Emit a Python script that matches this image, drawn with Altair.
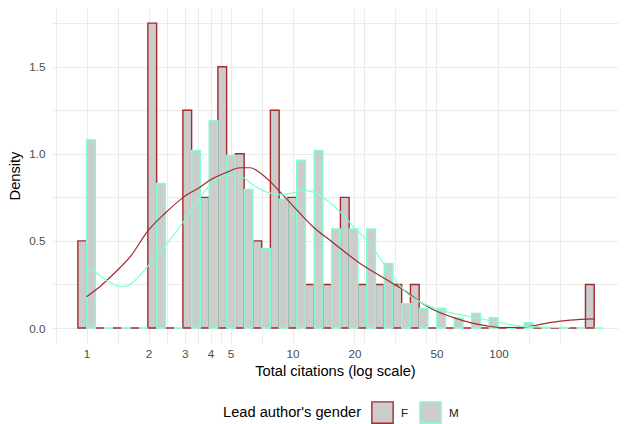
import altair as alt
import numpy as np
import pandas as pd

# ---------------- data ----------------
genders = ["F", "M"]
colors = ["#A52A2A", "#7FFFD4"]

# 30 log10-spaced histogram bins spanning 1 .. 292 citations (bin centres)
n_bins = 30
max_citations = 292
bin_index = list(range(n_bins))

density_F = [0.50, 0, 0, 0, 1.75, 0, 1.25, 0.75, 1.50, 1.00,
             0.50, 1.25, 0.75, 0.25, 0.25, 0.75, 0.25, 0.25, 0.25, 0.25,
             0, 0, 0, 0, 0, 0, 0, 0, 0, 0.25]
density_M = [1.08, 0, 0, 0, 0.83, 0, 1.02, 1.19, 0.99, 0.795,
             0.457, 0.74, 0.963, 1.02, 0.568, 0.568, 0.568, 0.37, 0.14, 0.113,
             0.113, 0.056, 0.084, 0.059, 0, 0.03, 0, 0, 0, 0]

# kernel density curves (citations, density)
curve_F_x = [1.0, 1.166, 1.378, 1.63, 1.993, 2.41, 2.947, 3.564, 3.986, 4.714,
             5.575, 6.232, 6.97, 7.795, 8.717, 10.08, 12.61, 15.76, 21.31, 28.83,
             34.46, 41.69, 50.41, 60.27, 72.89, 88.14, 105.4, 127.4, 154.1, 184.3,
             222.9, 292.0]
curve_F_y = [0.18, 0.24, 0.32, 0.41, 0.56, 0.66, 0.75, 0.81, 0.85, 0.89,
             0.92, 0.92, 0.89, 0.84, 0.78, 0.70, 0.58, 0.49, 0.37, 0.275,
             0.22, 0.15, 0.095, 0.061, 0.031, 0.012, 0.003, 0.004, 0.017, 0.034,
             0.045, 0.052]
curve_M_x = [1.0, 1.102, 1.209, 1.333, 1.458, 1.594, 1.757, 2.038, 2.457, 2.957,
             3.564, 4.136, 4.804, 5.575, 6.467, 7.51, 8.717, 10.11, 11.31, 12.65,
             14.69, 17.04, 19.78, 22.97, 26.66, 30.93, 35.93, 41.69, 50.23, 60.47,
             72.89, 87.85, 105.8, 127.4, 153.6, 184.3, 222.9]
curve_M_y = [0.342, 0.32, 0.285, 0.255, 0.237, 0.245, 0.285, 0.371, 0.486, 0.61,
             0.753, 0.839, 0.881, 0.872, 0.82, 0.78, 0.765, 0.776, 0.79, 0.78,
             0.734, 0.667, 0.58, 0.505, 0.40, 0.29, 0.20, 0.15, 0.11, 0.084,
             0.065, 0.046, 0.027, 0.011, 0.006, 0.004, 0.002]

x_major = [1, 2, 3, 4, 5, 10, 20, 50, 100]
x_minor = [0.707, 1.414, 2.449, 3.464, 4.472, 7.071, 22.36, 31.62, 44.72, 141.4, 200]
y_major = [0, 0.5, 1.0, 1.5]
y_minor = [0.25, 0.75, 1.25, 1.75]

# ---------------- tables ----------------
w = np.log10(max_citations) / (n_bins - 1)
rows = []
for g, dens in zip(genders, [density_F, density_M]):
    for k, d in zip(bin_index, dens):
        if g == "F":
            lo, hi = (k - 0.5) * w, k * w
        else:
            lo, hi = k * w, (k + 0.5) * w
        rows.append({"gender": g, "lo": 10 ** lo, "hi": 10 ** hi, "density": d, "base": 0})
bars_df = pd.DataFrame(rows)

curves_df = pd.concat([
    pd.DataFrame({"gender": "F", "cit": curve_F_x, "density": curve_F_y}),
    pd.DataFrame({"gender": "M", "cit": curve_M_x, "density": curve_M_y}),
])

FONT = "Liberation Sans"
xscale = alt.Scale(type="log", domain=[0.679, 381], nice=False)
yscale = alt.Scale(domain=[-0.086, 1.837], nice=False, zero=False)
sscale = alt.Scale(domain=genders, range=colors)

x_label_expr = "indexof(" + str(x_major) + ", datum.value) >= 0 ? format(datum.value, 'd') : ''"
y_label_expr = "indexof(" + str(y_major) + ", datum.value) >= 0 ? format(datum.value, '.1f') : ''"

x_axis = alt.Axis(values=sorted(x_major + x_minor), labelExpr=x_label_expr,
                  grid=True, gridColor="#EBEBEB", gridWidth=1.1,
                  ticks=False, domain=False,
                  labelFontSize=11.7, labelColor="#4D4D4D", labelPadding=5,
                  labelOverlap=False, labelFlush=False,
                  title="Total citations (log scale)", titleFontSize=14.67,
                  titleFontWeight="normal", titleColor="#000000", titlePadding=4)
y_axis = alt.Axis(values=sorted(y_major + y_minor), labelExpr=y_label_expr,
                  grid=True, gridColor="#EBEBEB", gridWidth=1.1,
                  ticks=False, domain=False,
                  labelFontSize=11.7, labelColor="#4D4D4D", labelPadding=7,
                  labelOverlap=False, labelFlush=False,
                  title="Density", titleFontSize=14.67,
                  titleFontWeight="normal", titleColor="#000000", titlePadding=6)

bars = alt.Chart(bars_df).mark_rect(fill="#CCCCCC", strokeWidth=1.4).encode(
    x=alt.X("lo:Q", scale=xscale, axis=x_axis),
    x2="hi:Q",
    y=alt.Y("density:Q", scale=yscale, axis=y_axis),
    y2="base:Q",
    stroke=alt.Stroke("gender:N", scale=sscale, legend=alt.Legend(
        title="Lead author's gender", orient="none", legendX=171, legendY=393,
        direction="horizontal", titleOrient="left", titleFontSize=14.67,
        titleFontWeight="normal", titleColor="#000000", titlePadding=9,
        titleBaseline="middle",
        labelFontSize=11.7, labelColor="#1A1A1A", labelOffset=7,
        symbolType="square", symbolSize=454, symbolFillColor="#CCCCCC",
        symbolStrokeWidth=1.4, symbolOpacity=1, columnPadding=8, padding=0)),
    order=alt.Order("gender:N"),
)

lines = alt.Chart(curves_df).mark_line(strokeWidth=1.2, interpolate="monotone").encode(
    x=alt.X("cit:Q", scale=xscale, axis=x_axis),
    y=alt.Y("density:Q", scale=yscale, axis=y_axis),
    stroke=alt.Stroke("gender:N", scale=sscale, legend=None),
    detail="gender:N",
)

chart = alt.layer(bars, lines).properties(
    width=566, height=335,
    padding={"left": 44, "top": 0, "right": 0, "bottom": 81},
    autosize=alt.AutoSizeParams(type="none"),
).resolve_legend(stroke="independent").configure(
    font=FONT, background="white"
).configure_view(stroke=None)

chart.save("out.html", embed_options={"renderer": "svg", "actions": False})
